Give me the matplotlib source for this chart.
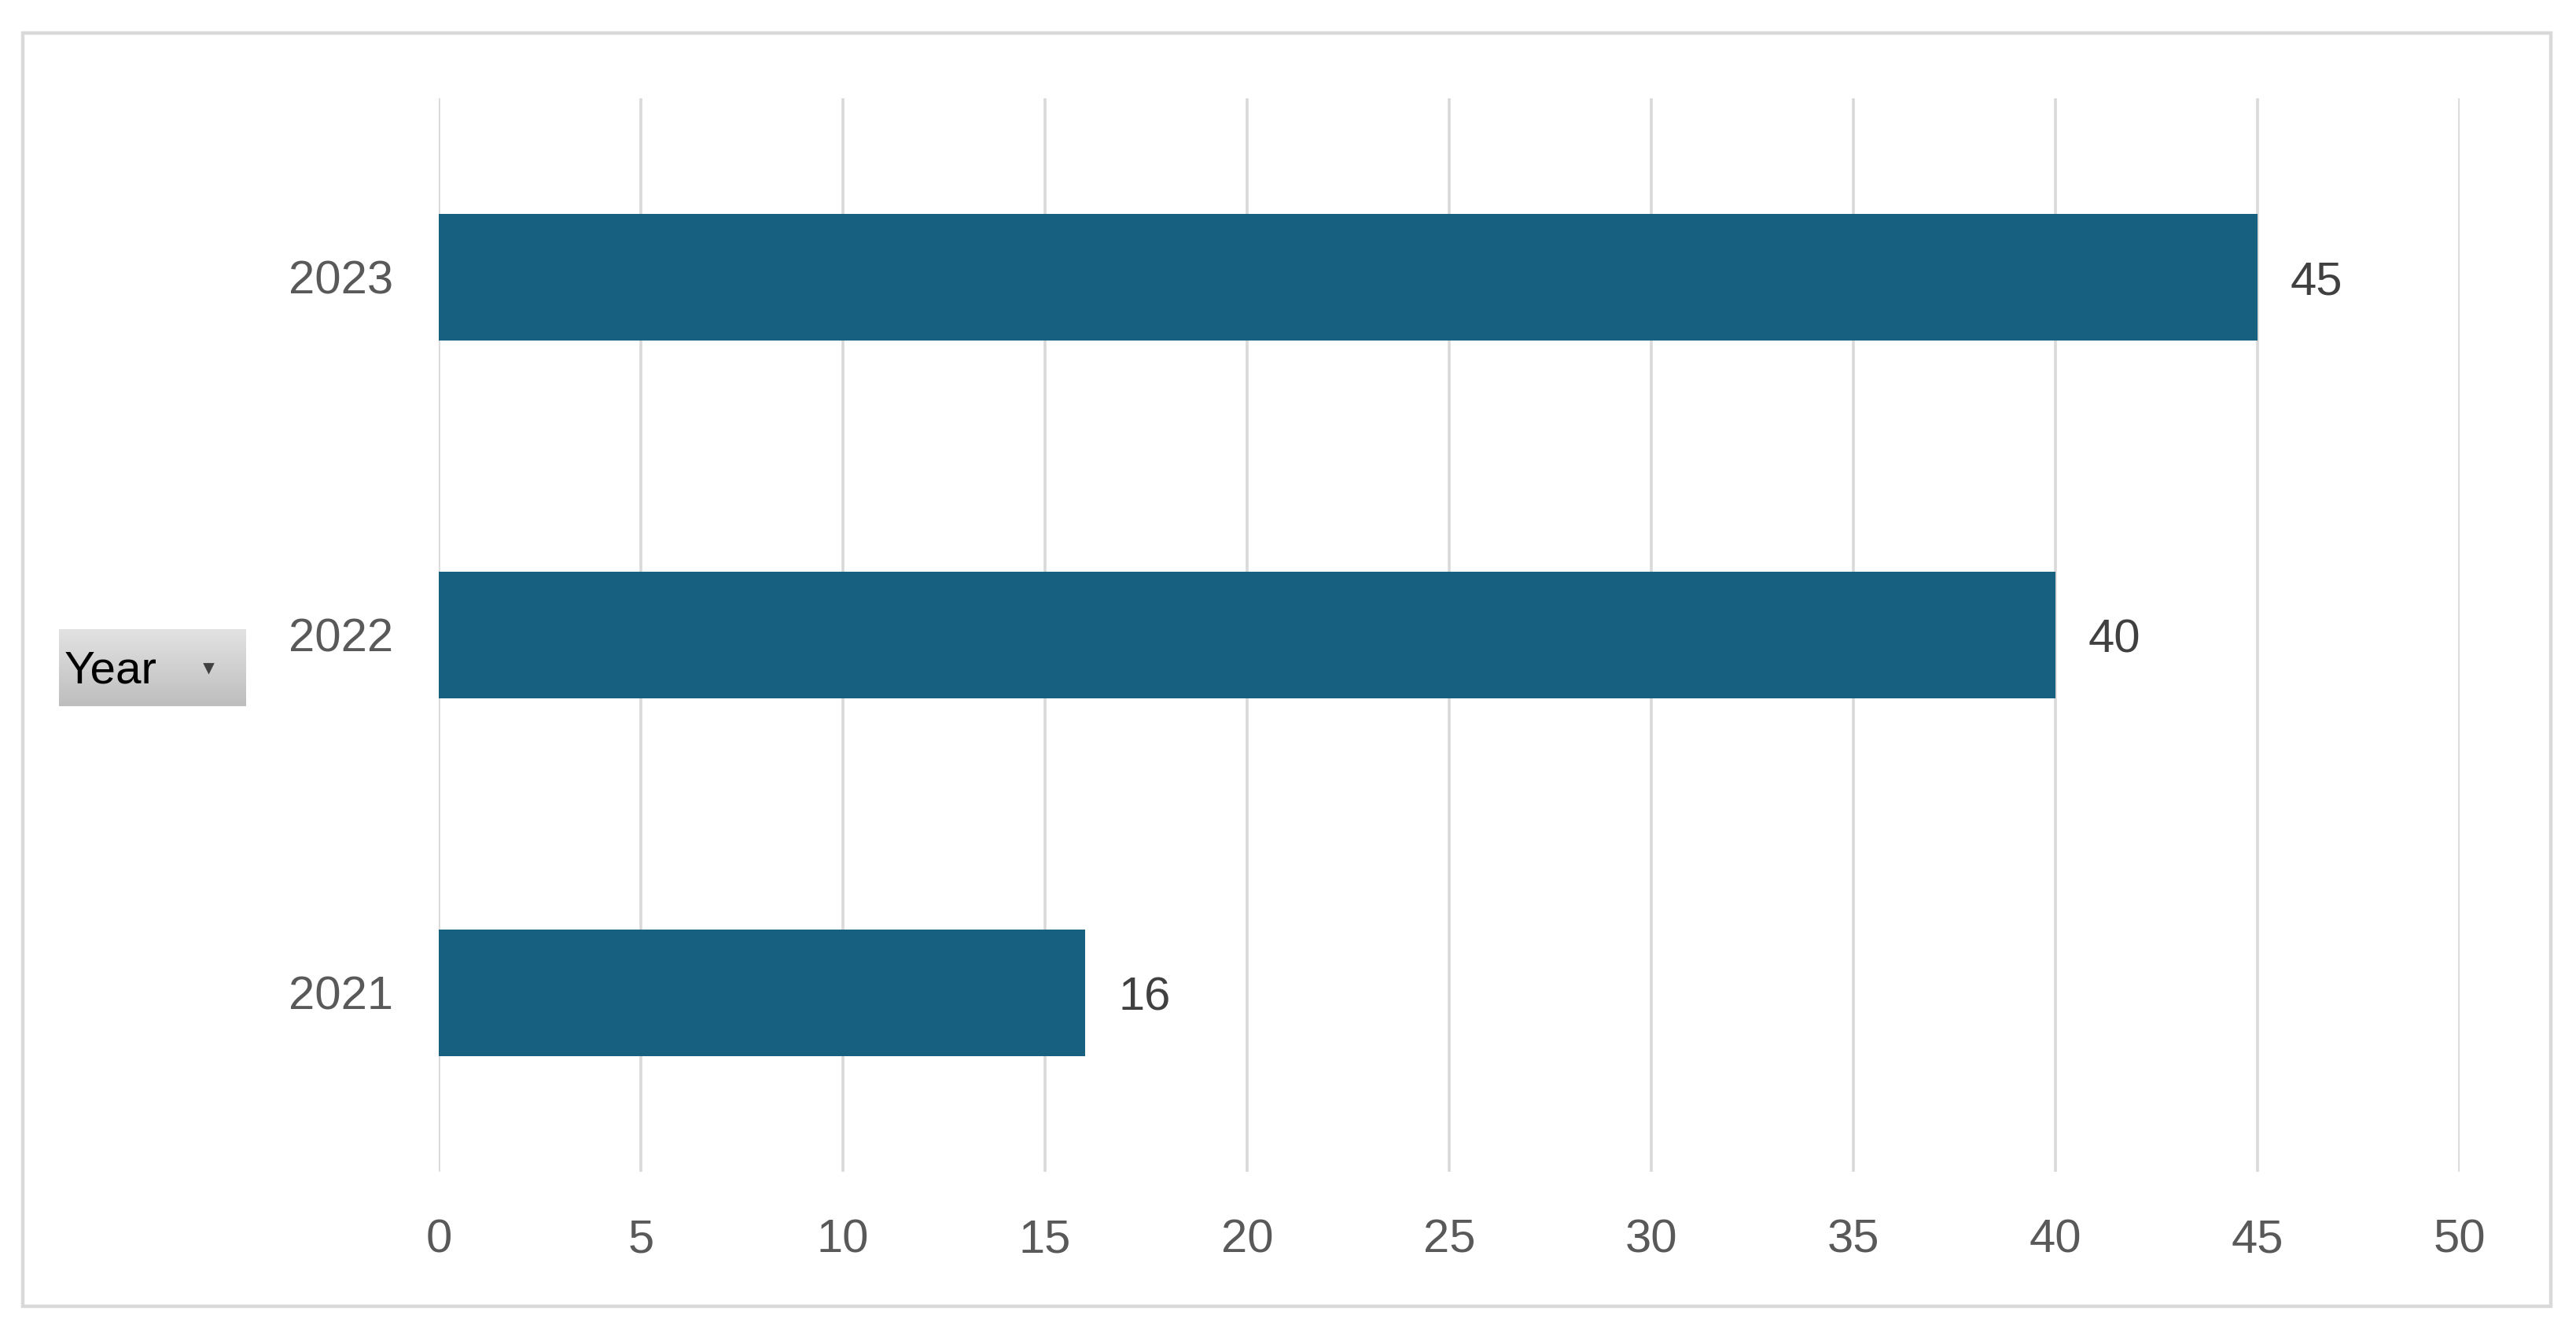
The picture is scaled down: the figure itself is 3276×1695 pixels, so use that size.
import numpy as np
import matplotlib.pyplot as plt
from matplotlib.patches import Rectangle
from matplotlib.colors import LinearSegmentedColormap

years = ['2021', '2022', '2023']
counts = [16, 40, 45]
x_ticks = [0, 5, 10, 15, 20, 25, 30, 35, 40, 45, 50]

bar_color = '#17607F'
grid_color = '#D9D9D9'
tick_font = ['Liberation Sans Narrow', 'Liberation Sans', 'DejaVu Sans']
label_font = ['Liberation Sans', 'DejaVu Sans']

W, H = 3276, 1695
fig = plt.figure(figsize=(W / 200, H / 200), dpi=200)

# outer chart border
fig.patches.append(Rectangle((29 / W, 1 - 1661 / H), (3244 - 29) / W, (1661 - 42) / H,
                             transform=fig.transFigure, fill=False,
                             edgecolor=grid_color, linewidth=1.6))

ax = fig.add_axes([558 / W, 1 - 1490 / H, (3128 - 558) / W, (1490 - 125) / H])
pos = np.arange(len(years))
bars = ax.barh(pos, counts, height=0.354, color=bar_color, zorder=3)

ax.set_xlim(0, 50)
ax.set_ylim(-0.5, len(years) - 0.5)
ax.set_xticks(x_ticks)
ax.set_yticks(pos)
ax.set_yticklabels(years)
ax.grid(axis='x', color=grid_color, linewidth=1.3, zorder=0)
for s in ax.spines.values():
    s.set_visible(False)
ax.tick_params(length=0, colors='#595959', labelsize=21.5)
ax.tick_params(axis='x', pad=21.5)
ax.tick_params(axis='y', pad=21)
for t in ax.get_xticklabels() + ax.get_yticklabels():
    t.set_family(tick_font)

for b, v in zip(bars, counts):
    ax.annotate(str(v), (v, b.get_y() + b.get_height() / 2), xytext=(15, -2.5),
                textcoords='offset points', ha='left', va='center',
                fontsize=21.5, color='#404040', family=label_font)

# "Year" field button
bax = fig.add_axes([75 / W, 1 - 898 / H, (313 - 75) / W, (898 - 800) / H])
grad = np.linspace(0, 1, 100).reshape(-1, 1)
bax.imshow(grad, aspect='auto', cmap=LinearSegmentedColormap.from_list('btn', ['#E2E2E2', '#BEBEBE']),
           extent=(0, 1, 0, 1), origin='upper')
bax.set_xlim(0, 1)
bax.set_ylim(0, 1)
bax.axis('off')
bax.text(0.03, 0.45, 'Year', ha='left', va='center', fontsize=21,
         color='black', family=label_font)
bax.plot([0.80], [0.5], marker='v', markersize=3.5, color='#404040')

fig.savefig('out.png', dpi=200, facecolor='white')
